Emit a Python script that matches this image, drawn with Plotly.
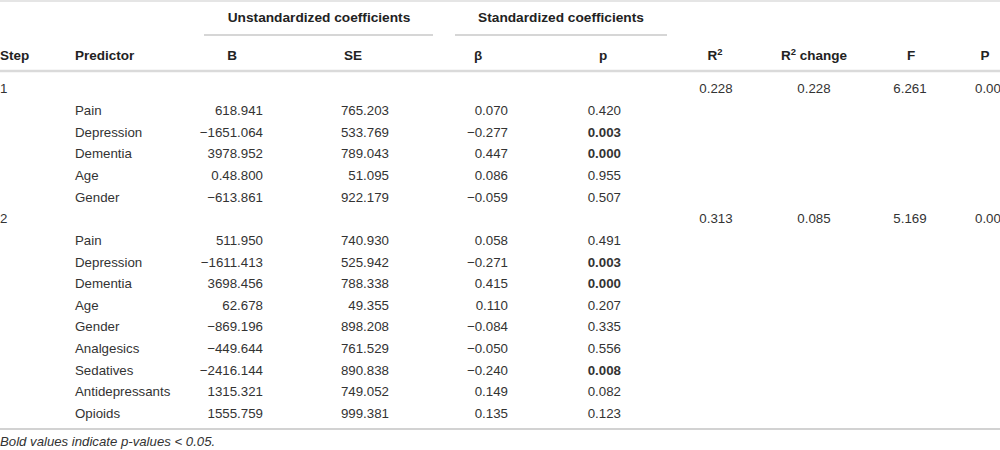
import plotly.graph_objects as go

steps = ["1", "2"]
predictors = [
    ["Pain", "Depression", "Dementia", "Age", "Gender"],
    ["Pain", "Depression", "Dementia", "Age", "Gender", "Analgesics", "Sedatives",
     "Antidepressants", "Opioids"],
]
b_values = [
    ["618.941", "−1651.064", "3978.952", "0.48.800", "−613.861"],
    ["511.950", "−1611.413", "3698.456", "62.678", "−869.196", "−449.644", "−2416.144",
     "1315.321", "1555.759"],
]
se_values = [
    ["765.203", "533.769", "789.043", "51.095", "922.179"],
    ["740.930", "525.942", "788.338", "49.355", "898.208", "761.529", "890.838",
     "749.052", "999.381"],
]
beta_values = [
    ["0.070", "−0.277", "0.447", "0.086", "−0.059"],
    ["0.058", "−0.271", "0.415", "0.110", "−0.084", "−0.050", "−0.240", "0.149", "0.135"],
]
p_values = [
    ["0.420", "0.003", "0.000", "0.955", "0.507"],
    ["0.491", "0.003", "0.000", "0.207", "0.335", "0.556", "0.008", "0.082", "0.123"],
]
r2 = ["0.228", "0.313"]
r2_change = ["0.228", "0.085"]
f_values = ["6.261", "5.169"]
p_model = ["0.000", "0.000"]

header_labels = ["Step", "Predictor", "B", "SE", "β", "p", "R<sup>2</sup>",
                 "R<sup>2</sup> change", "F", "P"]
group_labels = ["Unstandardized coefficients", "Standardized coefficients"]
footnote = "Bold values indicate p-values < 0.05."

# layout (pixel units on the axes)
ROW0_Y = 90
ROW_H = 21.65
HEADER_Y = 57
GROUP_Y = 19
FONT = "Liberation Sans"
TXT = "#333333"
HDR = "#222222"

# collect cells per column as (row index, text)
cells = {k: [] for k in ["step", "pred", "b", "se", "beta", "p", "r2", "r2c", "f", "pm"]}
r = 0
for i, s in enumerate(steps):
    cells["step"].append((r, s))
    cells["r2"].append((r, r2[i]))
    cells["r2c"].append((r, r2_change[i]))
    cells["f"].append((r, f_values[i]))
    cells["pm"].append((r, p_model[i]))
    r += 1
    for j, name in enumerate(predictors[i]):
        cells["pred"].append((r, name))
        cells["b"].append((r, b_values[i][j]))
        cells["se"].append((r, se_values[i][j]))
        cells["beta"].append((r, beta_values[i][j]))
        pv = p_values[i][j]
        cells["p"].append((r, "<b>%s</b>" % pv if float(pv) < 0.05 else pv))
        r += 1

# column: (key, x, textposition)
columns = [
    ("step", 0, "middle right"),
    ("pred", 75, "middle right"),
    ("b", 263, "middle left"),
    ("se", 389, "middle left"),
    ("beta", 508, "middle left"),
    ("p", 621, "middle left"),
    ("r2", 716, "middle center"),
    ("r2c", 814, "middle center"),
    ("f", 910, "middle center"),
    ("pm", 975, "middle right"),
]
header_x = [0, 75, 232, 353, 478, 603, 715, 814, 911, 985]
header_pos = ["middle right", "middle right"] + ["middle center"] * 8

fig = go.Figure()

for key, x, pos in columns:
    fig.add_trace(go.Scatter(
        x=[x] * len(cells[key]),
        y=[ROW0_Y + ri * ROW_H for ri, _ in cells[key]],
        text=[t for _, t in cells[key]], mode="text", textposition=pos,
        textfont=dict(family=FONT, size=13.3, color=TXT),
        hoverinfo="skip", showlegend=False
    ))

for lab, x, pos in zip(header_labels, header_x, header_pos):
    fig.add_trace(go.Scatter(
        x=[x], y=[HEADER_Y], text=["<b>%s</b>" % lab], mode="text", textposition=pos,
        textfont=dict(family=FONT, size=13.5, color=HDR),
        hoverinfo="skip", showlegend=False
    ))

fig.add_trace(go.Scatter(
    x=[319, 561], y=[GROUP_Y, GROUP_Y], text=["<b>%s</b>" % g for g in group_labels],
    mode="text", textposition="middle center",
    textfont=dict(family=FONT, size=13.7, color=HDR),
    hoverinfo="skip", showlegend=False
))

fig.add_trace(go.Scatter(
    x=[0], y=[443], text=["<i>%s</i>" % footnote.replace("<", "&lt;")],
    mode="text", textposition="middle right",
    textfont=dict(family=FONT, size=13.2, color=TXT),
    hoverinfo="skip", showlegend=False
))

# horizontal rules
rules = [
    (0, 1000, 1, "#cccccc", 1.2),
    (204, 433, 35, "#c8c8c8", 1.5),
    (455, 667, 35, "#c8c8c8", 1.5),
    (0, 1000, 71, "#dadada", 2.5),
    (0, 1000, 429, "#d2d2d2", 2),
]
for x0, x1, y, col, w in rules:
    fig.add_shape(type="line", xref="x", yref="y", x0=x0, x1=x1, y0=y, y1=y,
                  line=dict(color=col, width=w))

fig.update_layout(
    width=1000, height=450,
    margin=dict(l=0, r=0, t=0, b=0),
    paper_bgcolor="white", plot_bgcolor="white",
    xaxis=dict(range=[0, 1000], visible=False, fixedrange=True),
    yaxis=dict(range=[450, 0], visible=False, fixedrange=True),
)

# page body has an 8px default margin; drop it so the figure sits at the corner
fig.write_html("out.html", config={"displayModeBar": False},
               post_script="document.body.style.margin='0';")
